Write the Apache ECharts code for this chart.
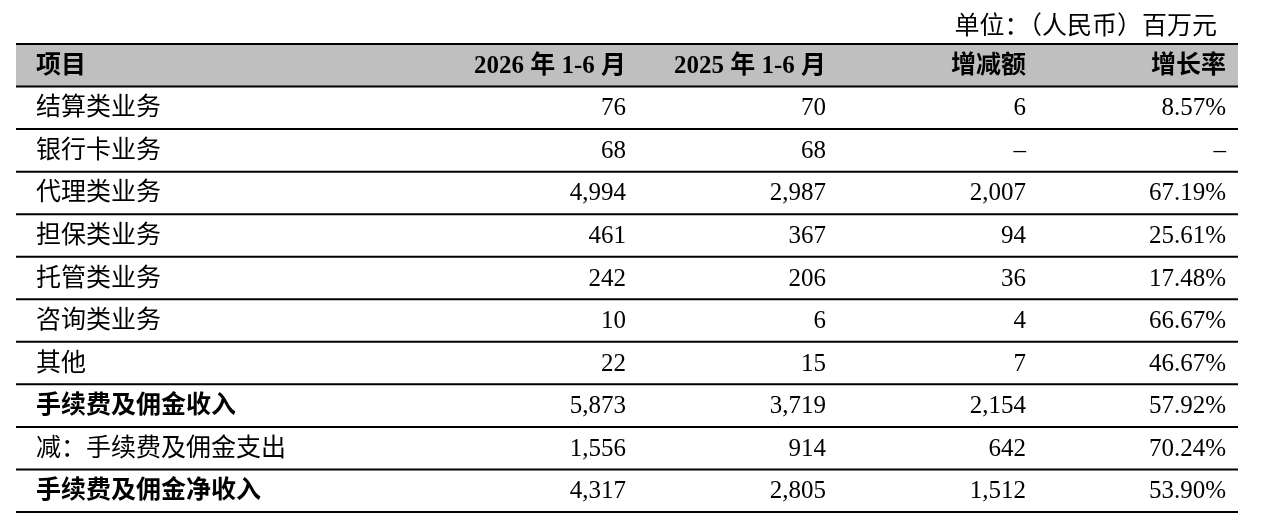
<!DOCTYPE html>
<html>
<head>
<meta charset="utf-8">
<script src="https://cdn.jsdelivr.net/npm/echarts@6/dist/echarts.min.js"></script>
<style>
  html, body { margin: 0; padding: 0; background: #fff; }
  #main { width: 1271px; height: 525px; }
</style>
</head>
<body>
<div id="main"></div>
<script>
// 表头与数据
const headers = ['项目', '2026 年 1-6 月', '2025 年 1-6 月', '增减额', '增长率'];
const items = ['结算类业务', '银行卡业务', '代理类业务', '担保类业务', '托管类业务',
    '咨询类业务', '其他', '手续费及佣金收入', '减：手续费及佣金支出', '手续费及佣金净收入'];
const y2026 = [76, 68, 4994, 461, 242, 10, 22, 5873, 1556, 4317];
const y2025 = [70, 68, 2987, 367, 206, 6, 15, 3719, 914, 2805];
const change = [6, null, 2007, 94, 36, 4, 7, 2154, 642, 1512];
const growth = [8.57, null, 67.19, 25.61, 17.48, 66.67, 46.67, 57.92, 70.24, 53.90];
const boldItems = ['手续费及佣金收入', '手续费及佣金净收入'];
const unitText = '单位：（人民币）百万元';

const FONT = '"Liberation Serif", "Noto Sans CJK SC", serif';

// 列锚点（x 轴单位），第一列左对齐，其余右对齐
const colX = [20, 610, 810, 1010, 1210];
const colAlign = ['left', 'right', 'right', 'right', 'right'];

function fmtNum(v) {
    if (v === null || v === undefined) return '–';
    return v.toLocaleString('en-US');
}
function fmtPct(v) {
    if (v === null || v === undefined) return '–';
    return v.toFixed(2) + '%';
}

const rowLabels = ['header'].concat(items);
const rows = [headers].concat(items.map((name, i) => [
    name, fmtNum(y2026[i]), fmtNum(y2025[i]), fmtNum(change[i]), fmtPct(growth[i])
]));

var myChart = echarts.init(document.getElementById('main'));
var option;

option = {
    animation: false,
    title: {
        text: unitText,
        right: 49,
        top: 10,
        textStyle: { fontFamily: FONT, fontSize: 25, fontWeight: 'normal', color: '#000' }
    },
    grid: { left: 16, top: 44, width: 1222, height: 468 },
    xAxis: { type: 'value', min: 0, max: 1222, show: false },
    yAxis: {
        type: 'category',
        data: rowLabels,
        inverse: true,
        show: false
    },
    series: [
        {
            type: 'custom',
            data: rows.map((r, i) => [0, i]),
            encode: { x: 0, y: 1 },
            renderItem: function (params, api) {
                const idx = api.value(1);
                const center = api.coord([0, idx]);
                const bandH = api.size([0, 1])[1];
                const left = api.coord([0, idx])[0];
                const right = api.coord([1222, idx])[0];
                const top = center[1] - bandH / 2;
                const bottom = center[1] + bandH / 2;
                const row = rows[idx];
                const isHeader = idx === 0;
                const bold = isHeader || boldItems.indexOf(row[0]) >= 0;
                const children = [];
                if (isHeader) {
                    children.push({
                        type: 'rect',
                        shape: { x: left, y: top, width: right - left, height: bandH },
                        style: { fill: '#bfbfbf' }
                    });
                    children.push({
                        type: 'line',
                        shape: { x1: left, y1: top, x2: right, y2: top },
                        style: { stroke: '#000', lineWidth: 2 }
                    });
                }
                children.push({
                    type: 'line',
                    shape: { x1: left, y1: bottom, x2: right, y2: bottom },
                    style: { stroke: '#000', lineWidth: 2 }
                });
                row.forEach((txt, c) => {
                    children.push({
                        type: 'text',
                        style: {
                            text: txt,
                            x: api.coord([colX[c], idx])[0],
                            y: center[1] + 1,
                            align: colAlign[c],
                            verticalAlign: 'middle',
                            fontFamily: FONT,
                            fontSize: 25,
                            fontWeight: bold && (c === 0 || isHeader) ? 'bold' : 'normal',
                            fill: '#000'
                        }
                    });
                });
                return { type: 'group', children: children };
            }
        }
    ]
};

option && myChart.setOption(option);
</script>
</body>
</html>
